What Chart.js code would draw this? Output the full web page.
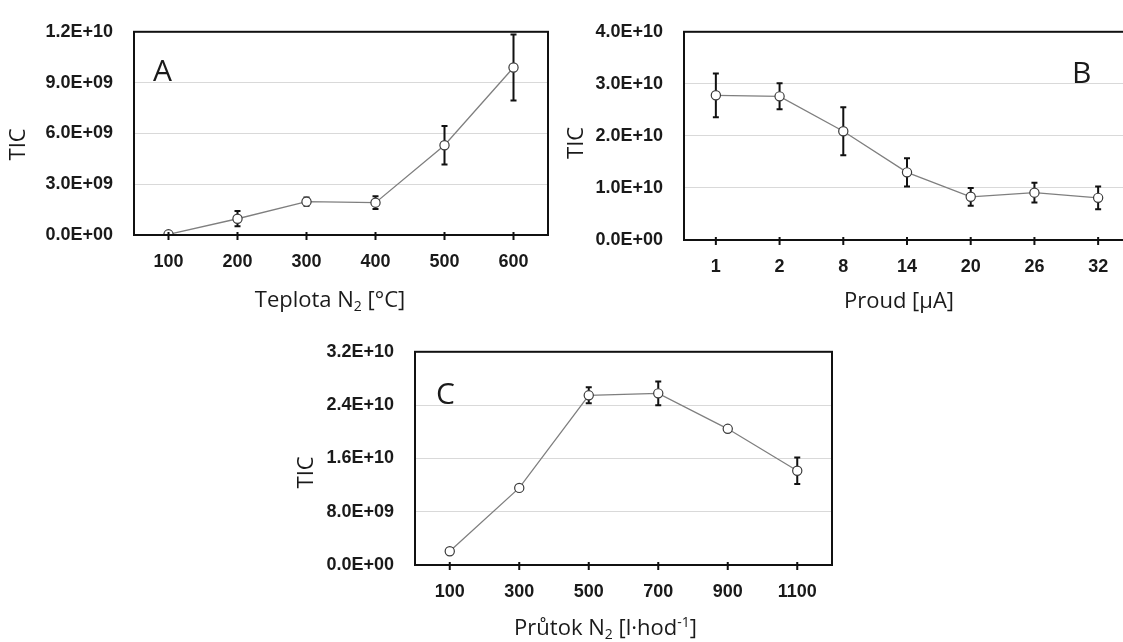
<!DOCTYPE html>
<html>
<head>
<meta charset="utf-8">
<script src="https://cdn.jsdelivr.net/npm/chart.js@4.4.0/dist/chart.umd.min.js"></script>
<style>
  html, body { margin: 0; padding: 0; background: #fff; width: 1123px; height: 642px; overflow: hidden; position: relative; }
  canvas { position: absolute; }
</style>
</head>
<body>
<canvas id="chartA" width="560" height="320" style="left:0;top:0"></canvas>
<canvas id="chartB" width="580" height="320" style="left:560px;top:0"></canvas>
<canvas id="chartC" width="560" height="322" style="left:280px;top:320px"></canvas>
<script>
// Panel A - temperature of N2
const tempLabels = ['100', '200', '300', '400', '500', '600'];
const ticA = [0.04e9, 0.96e9, 1.97e9, 1.91e9, 5.30e9, 9.89e9];
const errA = [0, 0.45e9, 0.25e9, 0.38e9, 1.13e9, 1.95e9];

// Panel B - current
const currentLabels = ['1', '2', '8', '14', '20', '26', '32'];
const ticB = [2.78e10, 2.76e10, 2.09e10, 1.30e10, 0.83e10, 0.91e10, 0.81e10];
const errB = [0.42e10, 0.25e10, 0.46e10, 0.27e10, 0.17e10, 0.19e10, 0.22e10];

// Panel C - N2 flow
const flowLabels = ['100', '300', '500', '700', '900', '1100'];
const ticC = [0.207e10, 1.157e10, 2.547e10, 2.576e10, 2.044e10, 1.414e10];
const errC = [0, 0, 0.12e10, 0.18e10, 0, 0.2e10];

// y axis ranges
const yMaxA = 1.2e10, yStepA = 3e9;
const yMaxB = 4e10, yStepB = 1e10;
const yMaxC = 3.2e10, yStepC = 8e9;

// axis titles, split where sub/superscripts go
const titleA = [['Teplota N'], ['2', 'sub'], [' [°C]']];
const titleB = [['Proud [µA]']];
const titleC = [['Průtok N'], ['2', 'sub'], [' [l·hod'], ['-1', 'sup'], [']']];

// Excel style scientific label, e.g. 3.0E+09
function sciLabel(v) {
    const parts = Number(v).toExponential(1).split('e');
    const exp = parts[1];
    return parts[0] + 'E' + exp[0] + exp.slice(1).padStart(2, '0');
}

const tickFont = { family: 'Liberation Sans', size: 18, weight: 'bold' };
const TITLE_SIZE = 22;

function drawRichTitle(ctx, parts, cx, cy) {
    const big = TITLE_SIZE + 'px "Open Sans"';
    const small = Math.round(TITLE_SIZE * 0.62) + 'px "Open Sans"';
    let total = 0;
    const widths = parts.map(p => {
        ctx.font = p[1] ? small : big;
        const w = ctx.measureText(p[0]).width;
        total += w;
        return w;
    });
    let x = cx - total / 2;
    ctx.textAlign = 'left';
    ctx.textBaseline = 'middle';
    parts.forEach((p, i) => {
        ctx.font = p[1] ? small : big;
        const dy = p[1] === 'sub' ? 6 : (p[1] === 'sup' ? -6 : 0);
        ctx.fillText(p[0], x, cy + dy);
        x += widths[i];
    });
}

// box, cross ticks, error bars, titles and panel letter
const panelPlugin = {
    id: 'panel',
    beforeDatasetsDraw(chart) {
        const ctx = chart.ctx;
        const x = chart.scales.x, y = chart.scales.y;
        const ds = chart.data.datasets[0];
        ctx.save();
        ctx.strokeStyle = '#111';
        ctx.lineWidth = 2;
        ds.errors.forEach((e, i) => {
            if (!e) return;
            const px = x.getPixelForValue(i);
            const top = y.getPixelForValue(ds.data[i] + e);
            const bot = y.getPixelForValue(ds.data[i] - e);
            ctx.beginPath();
            ctx.moveTo(px, top); ctx.lineTo(px, bot);
            ctx.moveTo(px - 3, top); ctx.lineTo(px + 3, top);
            ctx.moveTo(px - 3, bot); ctx.lineTo(px + 3, bot);
            ctx.stroke();
        });
        ctx.restore();
    },
    afterDraw(chart, args, opts) {
        const ctx = chart.ctx;
        const a = chart.chartArea;
        const x = chart.scales.x;
        ctx.save();
        ctx.strokeStyle = '#111';
        ctx.lineWidth = 2;
        ctx.strokeRect(a.left, a.top, a.right - a.left, a.bottom - a.top);
        ctx.beginPath();
        x.ticks.forEach((t, i) => {
            const px = x.getPixelForTick(i);
            ctx.moveTo(px, a.bottom - 3);
            ctx.lineTo(px, a.bottom + 5);
        });
        ctx.stroke();

        ctx.fillStyle = '#1a1a1a';
        // panel letter
        ctx.font = '30px "Open Sans"';
        ctx.textBaseline = 'middle';
        const lx = opts.fromRight ? a.right - opts.dx : a.left + opts.dx;
        ctx.fillText(opts.letter, lx, a.top + opts.dy);

        // x title
        drawRichTitle(ctx, opts.xTitle, (a.left + a.right) / 2 + opts.xtDx, a.bottom + opts.xtDy);

        // y title
        ctx.save();
        ctx.translate(a.left - opts.ytDx, (a.top + a.bottom) / 2 + opts.ytDy);
        ctx.rotate(-Math.PI / 2);
        ctx.font = TITLE_SIZE + 'px "Open Sans"';
        ctx.textAlign = 'center';
        ctx.textBaseline = 'middle';
        ctx.fillText('TIC', 0, 0);
        ctx.restore();
        ctx.restore();
    }
};

function makePanel(id, labels, values, errors, yMax, yStep, xTitle, p) {
    return new Chart(document.getElementById(id), {
        type: 'line',
        data: {
            labels: labels,
            datasets: [{
                data: values,
                errors: errors,
                borderColor: '#7f7f7f',
                borderWidth: 1.3,
                pointRadius: 4.6,
                pointBackgroundColor: '#fff',
                pointBorderColor: '#3a3a3a',
                pointBorderWidth: 1.2,
                tension: 0
            }]
        },
        options: {
            responsive: false,
            animation: false,
            devicePixelRatio: 1,
            layout: { padding: { top: p.top, right: p.right, left: 0, bottom: 0 } },
            plugins: {
                legend: { display: false },
                tooltip: { enabled: false },
                panel: Object.assign({ xTitle: xTitle }, p)
            },
            scales: {
                x: {
                    type: 'category',
                    offset: true,
                    grid: { display: false, drawTicks: false },
                    border: { display: false },
                    ticks: { font: tickFont, color: '#1a1a1a', padding: 16, maxRotation: 0, autoSkip: false },
                    afterFit: s => { s.height = p.xHeight; }
                },
                y: {
                    min: 0,
                    max: yMax,
                    grid: { color: '#d9d9d9', lineWidth: 1, drawTicks: false },
                    border: { display: false },
                    ticks: { stepSize: yStep, font: tickFont, color: '#1a1a1a', padding: 21, callback: v => sciLabel(v) },
                    afterFit: s => { s.width = p.yWidth; }
                }
            }
        },
        plugins: [panelPlugin]
    });
}

makePanel('chartA', tempLabels, ticA, errA, yMaxA, yStepA, titleA,
    { top: 26, right: 12, xHeight: 85, yWidth: 134, letter: 'A', dx: 19, dy: 41,
      xtDx: -11, xtDy: 66, ytDx: 115, ytDy: 11 });
makePanel('chartB', currentLabels, ticB, errB, yMaxB, yStepB, titleB,
    { top: 24, right: 10, xHeight: 80, yWidth: 124, letter: 'B', dx: 58, dy: 43, fromRight: true,
      xtDx: -8, xtDy: 62, ytDx: 107, ytDy: 7 });
makePanel('chartC', flowLabels, ticC, errC, yMaxC, yStepC, titleC,
    { top: 28, right: 8, xHeight: 77, yWidth: 135, letter: 'C', dx: 21, dy: 44,
      xtDx: -18, xtDy: 64, ytDx: 108, ytDy: 14 });
</script>
</body>
</html>
